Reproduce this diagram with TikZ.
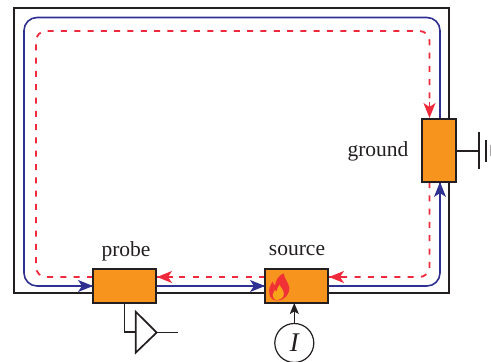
\documentclass[tikz,border=0pt]{standalone}
\usepackage{fontspec}
\setmainfont{Liberation Serif}
\usetikzlibrary{arrows.meta}
\definecolor{boxorange}{HTML}{F7941E}
\definecolor{loopblue}{HTML}{2E3192}
\definecolor{loopred}{HTML}{EE2A3C}
\definecolor{ink}{HTML}{231F20}
\tikzset{
  device/.style={draw=ink,line width=1.1pt,fill=boxorange,inner sep=0pt,outer sep=0pt},
  caption/.style={text=ink,font=\fontsize{21.5}{24}\selectfont,inner sep=0pt},
  frameline/.style={draw=ink,line width=2pt},
  wire/.style={draw=ink,line width=1.7pt},
  bluepath/.style={draw=loopblue,line width=1.6pt,rounded corners=13pt},
  redpath/.style={draw=loopred,line width=1.8pt,dash pattern=on 6pt off 7.3pt,rounded corners=10pt},
  bluetip/.style={-{Stealth[length=15pt,width=12pt,inset=4pt]}},
  redtip/.style={-{Stealth[length=15pt,width=12pt,inset=4pt]}},
}
\begin{document}
\begin{tikzpicture}[x=1pt,y=-1pt]
\useasboundingbox (0,0) rectangle (491,362);
\draw[frameline] (14,8) rectangle (449,293);
% named way points
\coordinate (btl) at (24,17.5);
\coordinate (btr) at (440,17.5);
\coordinate (bbl) at (24,286);
\coordinate (bbr) at (440,286);
\coordinate (rtl) at (36,31);
\coordinate (rtr) at (429.5,31);
\coordinate (rbl) at (36,277);
\coordinate (rbr) at (429.5,277);
% loops
\path[device,draw=none,fill=none,minimum width=63pt,minimum height=34pt]
  node (probe) at (124.5,286) {}
  node (source) at (296.5,286) {};
\path[device,draw=none,fill=none,minimum width=34pt,minimum height=63pt]
  node (ground) at (439,150.5) {};
\draw[bluepath] (ground.north -| btr) -- (btr) -- (btl) -- (bbl) -- (probe.west |- bbl);
\draw[bluepath] (probe.east |- bbl) -- (source.west |- bbl);
\draw[bluepath] (source.east |- bbr) -- (bbr) -- (ground.south -| bbr);
\draw[redpath] (ground.south -| rbr) -- (rbr) -- (source.east |- rbr);
\draw[redpath] (source.west |- rbl) -- (probe.east |- rbl);
\draw[redpath] (probe.west |- rbl) -- (rbl) -- (rtl) -- (rtr) -- (ground.north -| rtr);
% devices
\node[device,minimum width=63pt,minimum height=34pt] (probebox) at (probe) {};
\node[device,minimum width=63pt,minimum height=34pt] (sourcebox) at (source) {};
\node[device,minimum width=34pt,minimum height=63pt] (groundbox) at (ground) {};
% arrow heads
\draw[loopblue,line width=1.6pt,bluetip] ([xshift=-16pt]probebox.west |- bbl) -- (probebox.west |- bbl);
\draw[loopblue,line width=1.6pt,bluetip] ([xshift=-16pt]sourcebox.west |- bbl) -- (sourcebox.west |- bbl);
\draw[loopblue,line width=1.6pt,bluetip] ([yshift=-16pt]groundbox.south -| bbr) -- (groundbox.south -| bbr);
\draw[loopred,line width=1.7pt,redtip] ([xshift=17pt]sourcebox.east |- rbr) -- ([xshift=1pt]sourcebox.east |- rbr);
\draw[loopred,line width=1.7pt,redtip] ([xshift=17pt]probebox.east |- rbl) -- ([xshift=1pt]probebox.east |- rbl);
\draw[loopred,line width=1.7pt,redtip] ([yshift=17pt]groundbox.north -| rtr) -- ([yshift=1pt]groundbox.north -| rtr);
% flame
\fill[loopred!90!orange] (283.5,273.3) .. controls (284.5,279) and (288.5,282) .. (289.4,288)
  .. controls (289.5,294) and (285,300.5) .. (277,300.5)
  .. controls (270,300.5) and (269,294) .. (269.2,290)
  .. controls (269.5,286) and (271.5,284) .. (272.5,281.5)
  .. controls (273.5,283.5) and (274,285) .. (275,285.5)
  .. controls (275.5,281) and (278,276) .. (283.5,273.3) -- cycle;
\fill[boxorange!85!yellow] (279.5,285) .. controls (281,288) and (284,290) .. (283.8,294.5)
  .. controls (283.5,297.5) and (280.5,300) .. (277.5,300)
  .. controls (274,300) and (272.5,297.5) .. (272.7,295)
  .. controls (273,292.5) and (274.5,291.5) .. (275,290)
  .. controls (275.8,291) and (276,291.5) .. (276.6,291.8)
  .. controls (276.8,289) and (278,287) .. (279.5,285) -- cycle;
% labels
\node[caption] (probelabel) at (126,251) {probe};
\node[caption] (sourcelabel) at (297,251) {source};
\node[caption] (groundlabel) at (378,151) {ground};
% current source
\node[draw=ink,line width=1.2pt,circle,minimum size=39pt,inner sep=0pt,fill=white,
      font=\fontsize{27}{30}\selectfont\itshape,text=ink] (cur) at (294.3,343) {I};
\draw[wire,line width=1.3pt,-{Stealth[length=11pt,width=9pt,inset=2.5pt]}] (cur.north) -- (cur.north |- sourcebox.south);
% amplifier
\coordinate (ampa) at (135.7,311.7);
\coordinate (ampb) at (135.7,352.7);
\coordinate (ampc) at (156.7,332.5);
\coordinate (ampin) at (135.7,332);
\coordinate (ampout) at (178,332.5);
\coordinate (ampdrop) at (124.5,332);
\draw[wire,line join=miter] (ampa) -- (ampc) -- (ampb) -- cycle;
\draw[wire] (ampc) -- (ampout);
\draw[wire] (ampdrop |- probebox.south) -- (ampdrop) -- (ampin);
% ground symbol
\coordinate (gnd) at (479.3,150.5);
\draw[wire,line width=2pt] (groundbox.east) -- (gnd);
\draw[ink,line width=2.2pt] (479.3,132) -- (479.3,168.7);
\draw[ink,line width=2.2pt] (485.7,140) -- (485.7,162);
\draw[ink!40,line width=1.6pt] (490.5,145) -- (490.5,156);
\end{tikzpicture}
\end{document}
